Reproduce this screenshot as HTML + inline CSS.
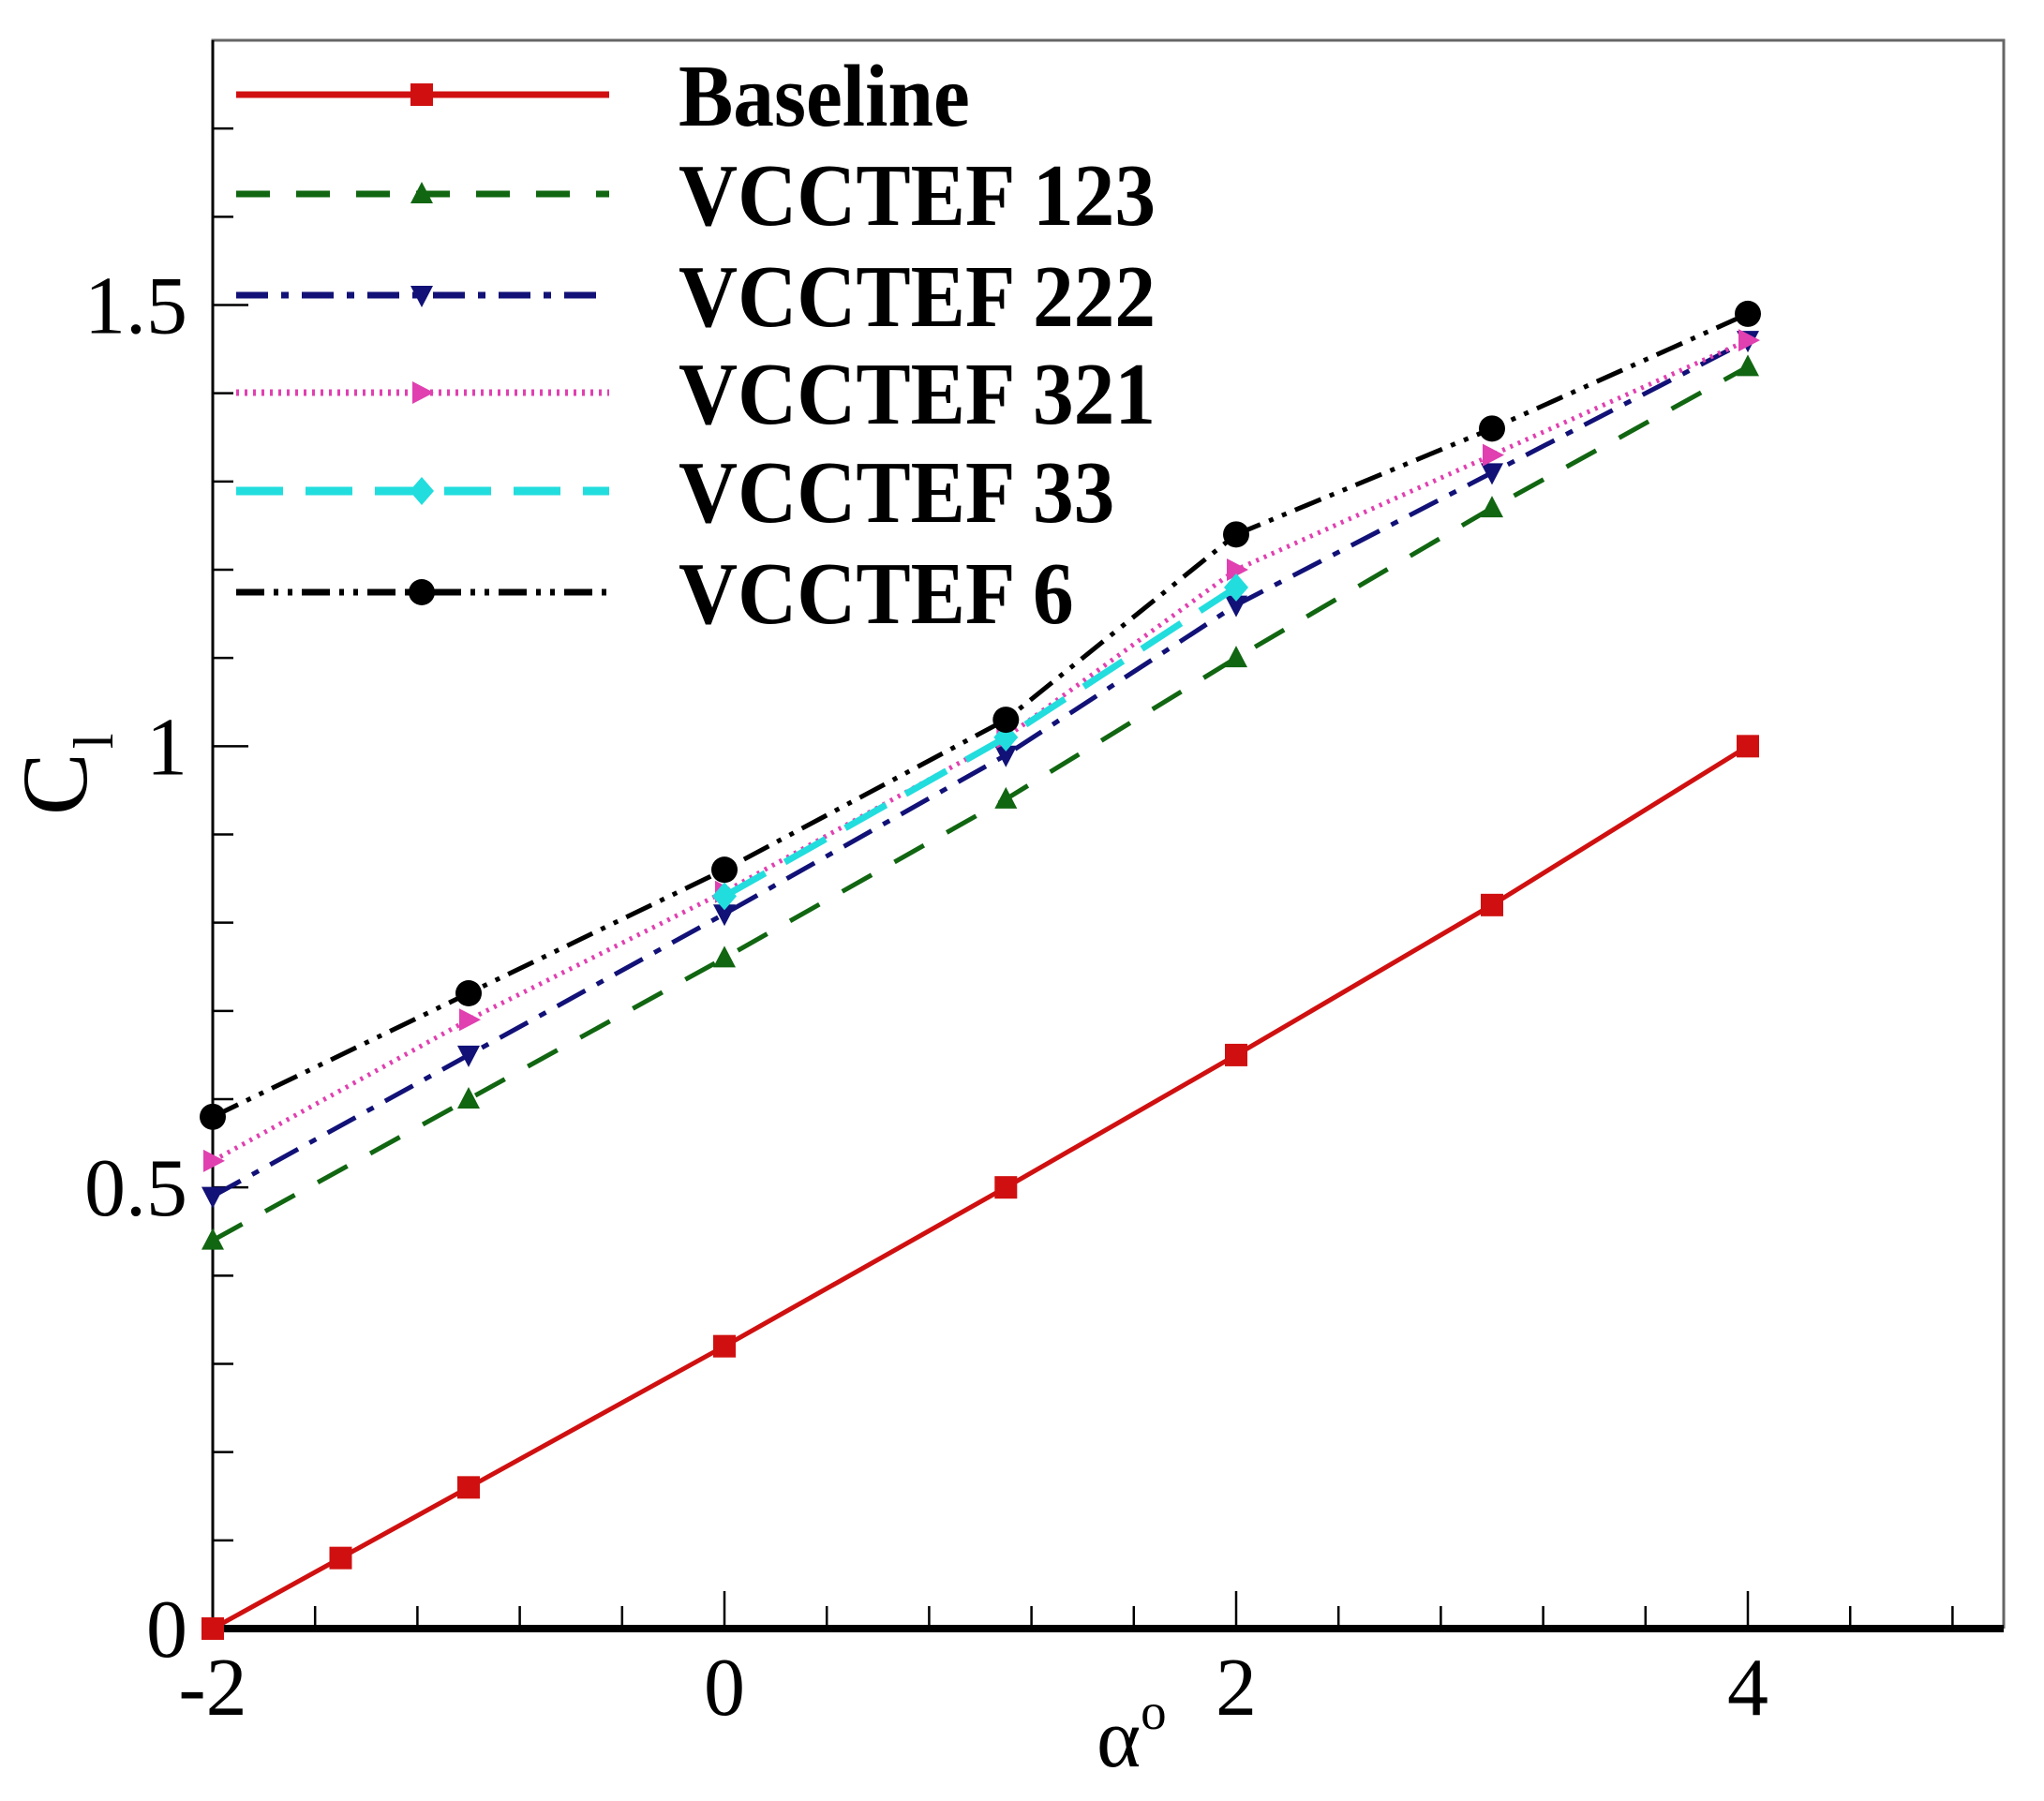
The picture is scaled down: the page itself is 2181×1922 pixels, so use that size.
<!DOCTYPE html>
<html><head><meta charset="utf-8"><style>
html,body{margin:0;padding:0;background:#fff;}
svg{display:block;}
</style></head><body>
<svg id="chart" width="2181" height="1922" viewBox="0 0 2181 1922" xmlns="http://www.w3.org/2000/svg" font-family="'Liberation Serif', serif">
<rect x="0" y="0" width="2181" height="1922" fill="#fff"/>
<g id="grid"></g>
<g id="series"></g>
<g id="legend"></g>
<text x="1170" y="1885" font-size="90">α<tspan font-size="55" dy="-40">o</tspan></text>
<text transform="translate(92,870) rotate(-90)" font-size="100">C<tspan font-size="60" dx="4" dy="28">l</tspan></text>
</svg>
<script>
const xBaseline = [-2, -1.5, -1, 0, 1.1, 2, 3, 4];
const yBaseline = [0, 0.08, 0.16, 0.32, 0.5, 0.65, 0.82, 1.0];
const xFlap = [-2, -1, 0, 1.1, 2, 3, 4];
const y123 = [0.44, 0.60, 0.76, 0.94, 1.10, 1.27, 1.43];
const y222 = [0.49, 0.65, 0.81, 0.99, 1.16, 1.31, 1.46];
const y321 = [0.53, 0.69, 0.835, 1.01, 1.20, 1.33, 1.46];
const x33 = [0, 1.1, 2];
const y33 = [0.83, 1.01, 1.18];
const y6 = [0.58, 0.72, 0.86, 1.03, 1.24, 1.36, 1.49];
const xTickLabels = ["-2", "0", "2", "4"];
const yTickLabels = ["0", "0.5", "1", "1.5"];
const legendLabels = ["Baseline", "VCCTEF 123", "VCCTEF 222", "VCCTEF 321", "VCCTEF 33", "VCCTEF 6"];

const L=227,R=2138,T=43,B=1738,XMIN=-2,XMAX=5,YMIN=0,YMAX=1.8;
const sx=v=>L+(v-XMIN)/(XMAX-XMIN)*(R-L);
const sy=v=>B-(v-YMIN)/(YMAX-YMIN)*(B-T);
const NS="http://www.w3.org/2000/svg";
function mk(tag,attrs,parent){const e=document.createElementNS(NS,tag);for(const k in attrs)e.setAttribute(k,attrs[k]);parent.appendChild(e);return e;}
const grid=document.getElementById('grid');
let fr=mk('path',{d:`M${L},${B} L${L},${T} L${R},${T} L${R},${B}`,fill:'none',stroke:'#666','stroke-width':3},grid);


let xa=mk('line',{x1:L,y1:B,x2:R,y2:B,stroke:'#000','stroke-width':8},grid);


let ya=mk('line',{x1:L,y1:B,x2:L,y2:T,stroke:'#000','stroke-width':3},grid);


for(let i=0;i<=17;i++){const v=-2+i*0.4;const major=Math.abs(v-Math.round(v))<1e-6&&Math.round(v)%2===0;
 const t=mk('line',{x1:sx(v),y1:B,x2:sx(v),y2:B-(major?40:24),stroke:'#000','stroke-width':2.5},grid);
 
 }
xTickLabels.forEach(s=>{const t=mk('text',{x:sx(+s),y:1830,'font-size':88,'text-anchor':'middle'},grid);t.textContent=s;
 
 });
for(let i=0;i<=17;i++){const v=i*0.1;const major=i%5===0;
 const t=mk('line',{x1:L,y1:sy(v),x2:L+(major?38:22),y2:sy(v),stroke:'#000','stroke-width':2.5},grid);
 
 }
yTickLabels.forEach(s=>{const t=mk('text',{x:200,y:sy(+s)+30,'font-size':88,'text-anchor':'end'},grid);t.textContent=s;
 
 });

const styles=[
 {c:'#d01010',dash:'',w:5,m:'square'},
 {c:'#116611',dash:'36 28',w:5,m:'tri-up'},
 {c:'#111177',dash:'34 14 8 14',w:5,m:'tri-down'},
 {c:'#e040b0',dash:'3 6',w:5,m:'tri-right'},
 {c:'#22dddd',dash:'50 24',w:7,m:'diamond'},
 {c:'#000',dash:'30 10 5 10 5 10',w:5,m:'circle'}];
function marker(type,x,y,col,parent){
 let e;const s=12;
 if(type==='square') e=mk('rect',{x:x-s,y:y-s,width:2*s,height:2*s,fill:col},parent);
 else if(type==='circle') e=mk('circle',{cx:x,cy:y,r:14,fill:col},parent);
 else if(type==='diamond') e=mk('path',{d:`M${x},${y-15}L${x+13},${y}L${x},${y+15}L${x-13},${y}Z`,fill:col},parent);
 else if(type==='tri-up') e=mk('path',{d:`M${x},${y-13}L${x+12},${y+10}L${x-12},${y+10}Z`,fill:col},parent);
 else if(type==='tri-down') e=mk('path',{d:`M${x},${y+13}L${x+12},${y-10}L${x-12},${y-10}Z`,fill:col},parent);
 else e=mk('path',{d:`M${x+13},${y}L${x-10},${y-12}L${x-10},${y+12}Z`,fill:col},parent);
 return e;}
const sg=document.getElementById('series');
const data=[[xBaseline,yBaseline],[xFlap,y123],[xFlap,y222],[xFlap,y321],[x33,y33],[xFlap,y6]];
const names=['baseline','vcctef-123','vcctef-222','vcctef-321','vcctef-33','vcctef-6'];
data.forEach((d,k)=>{const st=styles[k];
 const g=mk('g',{},sg);
 
 
 const pts=d[0].map((x,i)=>sx(x)+','+sy(d[1][i])).join(' ');
 const pl=mk('polyline',{points:pts,fill:'none',stroke:st.c,'stroke-width':st.w,'stroke-dasharray':st.dash},g);
 
 
 d[0].forEach((x,i)=>{const m=marker(st.m,sx(x),sy(d[1][i]),st.c,g);
  
  });
});
const lg=document.getElementById('legend');
const rowsY=[101,207,315,419,524,632];
legendLabels.forEach((lab,k)=>{const st=styles[k];const y=rowsY[k];
 const g=mk('g',{},lg);
 
 
 mk('line',{x1:252,y1:y,x2:650,y2:y,stroke:st.c,'stroke-width':st.w+2,'stroke-dasharray':st.dash},g);
 marker(st.m,450,y,st.c,g);
 const t=mk('text',{x:0,y:0,'font-size':94,'font-weight':'bold',transform:`translate(724,${y+33}) scale(0.93,1)`},g);
 t.textContent=lab;
});
</script>
</body></html>
